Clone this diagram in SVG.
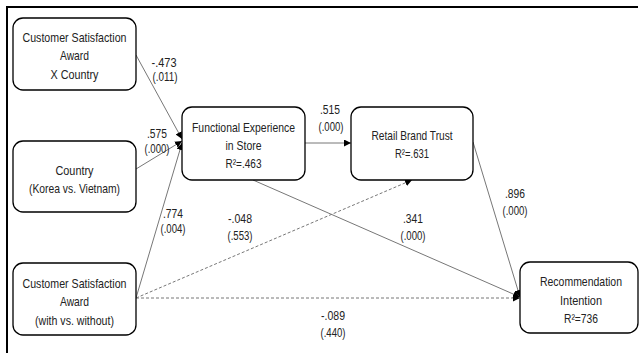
<svg xmlns="http://www.w3.org/2000/svg" width="641" height="353" viewBox="0 0 641 353">
<defs>
<style>
.box{fill:#fff;stroke:#000;stroke-width:1.3}
.t{font-family:"Liberation Sans",Arial,sans-serif;font-size:13px;fill:#222;text-anchor:middle}
.n{font-family:"Liberation Sans",Arial,sans-serif;font-size:12.5px;fill:#222;text-anchor:middle}
.ln{fill:none;stroke:#777;stroke-width:1}
.dl{fill:none;stroke:#777;stroke-width:1;stroke-dasharray:3 2}
</style>
<marker id="ah" viewBox="0 0 10 10" refX="10" refY="5" markerWidth="7" markerHeight="7" markerUnits="userSpaceOnUse" orient="auto">
<path d="M0,0 L10,5 L0,10 z" fill="#000"/>
</marker>
</defs>
<rect width="641" height="353" fill="#fff"/>
<g id="frame">
<line x1="6" y1="7" x2="638" y2="7" stroke="#000" stroke-width="2"/>
<line x1="7" y1="6" x2="7" y2="353" stroke="#000" stroke-width="2"/>
</g>
<g id="connectors">
<line class="ln" x1="136" y1="55" x2="182" y2="139" marker-end="url(#ah)"/>
<line class="ln" x1="136" y1="169" x2="182" y2="141" marker-end="url(#ah)"/>
<line class="ln" x1="136" y1="298" x2="182" y2="143" marker-end="url(#ah)"/>
<line class="ln" x1="305" y1="143" x2="351" y2="143" marker-end="url(#ah)"/>
<line class="ln" x1="253" y1="180" x2="520" y2="297" marker-end="url(#ah)"/>
<line class="ln" x1="473" y1="142" x2="520" y2="297" marker-end="url(#ah)"/>
<line class="dl" x1="136" y1="298" x2="412" y2="180" marker-end="url(#ah)"/>
<line class="dl" x1="136" y1="298" x2="520" y2="298" marker-end="url(#ah)"/>
</g>
<g id="labels">
<text class="n" x="164" y="67" textLength="25" lengthAdjust="spacingAndGlyphs">-.473</text>
<text class="n" x="165" y="81" textLength="25" lengthAdjust="spacingAndGlyphs">(.011)</text>
<text class="n" x="157" y="138" textLength="20" lengthAdjust="spacingAndGlyphs">.575</text>
<text class="n" x="157" y="153" textLength="25" lengthAdjust="spacingAndGlyphs">(.000)</text>
<text class="n" x="173" y="218" textLength="20" lengthAdjust="spacingAndGlyphs">.774</text>
<text class="n" x="173" y="233" textLength="25" lengthAdjust="spacingAndGlyphs">(.004)</text>
<text class="n" x="330" y="114" textLength="20" lengthAdjust="spacingAndGlyphs">.515</text>
<text class="n" x="331" y="131" textLength="25" lengthAdjust="spacingAndGlyphs">(.000)</text>
<text class="n" x="240" y="223" textLength="24" lengthAdjust="spacingAndGlyphs">-.048</text>
<text class="n" x="240" y="240" textLength="25" lengthAdjust="spacingAndGlyphs">(.553)</text>
<text class="n" x="413" y="223" textLength="20" lengthAdjust="spacingAndGlyphs">.341</text>
<text class="n" x="413" y="240" textLength="25" lengthAdjust="spacingAndGlyphs">(.000)</text>
<text class="n" x="515" y="198" textLength="20" lengthAdjust="spacingAndGlyphs">.896</text>
<text class="n" x="515" y="215" textLength="25" lengthAdjust="spacingAndGlyphs">(.000)</text>
<text class="n" x="333" y="320" textLength="24" lengthAdjust="spacingAndGlyphs">-.089</text>
<text class="n" x="333" y="337" textLength="25" lengthAdjust="spacingAndGlyphs">(.440)</text>
</g>
<g id="node-csa-country">
<rect class="box" x="13" y="18" width="123" height="72" rx="10"/>
<text class="t" x="74.5" y="42" textLength="104" lengthAdjust="spacingAndGlyphs">Customer Satisfaction</text>
<text class="t" x="74.5" y="60" textLength="29" lengthAdjust="spacingAndGlyphs">Award</text>
<text class="t" x="74.5" y="79" textLength="48" lengthAdjust="spacingAndGlyphs">X Country</text>
</g>
<g id="node-country">
<rect class="box" x="13" y="141" width="123" height="71" rx="10"/>
<text class="t" x="74.5" y="175" textLength="38" lengthAdjust="spacingAndGlyphs">Country</text>
<text class="t" x="74.5" y="193" textLength="91" lengthAdjust="spacingAndGlyphs">(Korea vs. Vietnam)</text>
</g>
<g id="node-csa">
<rect class="box" x="13" y="263" width="123" height="72" rx="10"/>
<text class="t" x="74.5" y="288" textLength="104" lengthAdjust="spacingAndGlyphs">Customer Satisfaction</text>
<text class="t" x="74.5" y="306" textLength="29" lengthAdjust="spacingAndGlyphs">Award</text>
<text class="t" x="74.5" y="325" textLength="79" lengthAdjust="spacingAndGlyphs">(with vs. without)</text>
</g>
<g id="node-fes">
<rect class="box" x="182" y="107" width="123" height="73" rx="10"/>
<text class="t" x="243.5" y="132" textLength="103" lengthAdjust="spacingAndGlyphs">Functional Experience</text>
<text class="t" x="243.5" y="150" textLength="36" lengthAdjust="spacingAndGlyphs">in Store</text>
<text class="t" x="243.5" y="168" textLength="36" lengthAdjust="spacingAndGlyphs">R²=.463</text>
</g>
<g id="node-rbt">
<rect class="box" x="351" y="107" width="122" height="73" rx="10"/>
<text class="t" x="412" y="140" textLength="81" lengthAdjust="spacingAndGlyphs">Retail Brand Trust</text>
<text class="t" x="412" y="158" textLength="34" lengthAdjust="spacingAndGlyphs">R²=.631</text>
</g>
<g id="node-ri">
<rect class="box" x="520" y="262" width="118" height="71" rx="10"/>
<text class="t" x="581" y="286" textLength="82" lengthAdjust="spacingAndGlyphs">Recommendation</text>
<text class="t" x="581" y="305" textLength="42" lengthAdjust="spacingAndGlyphs">Intention</text>
<text class="t" x="581" y="323" textLength="34" lengthAdjust="spacingAndGlyphs">R²=736</text>
</g>
</svg>
